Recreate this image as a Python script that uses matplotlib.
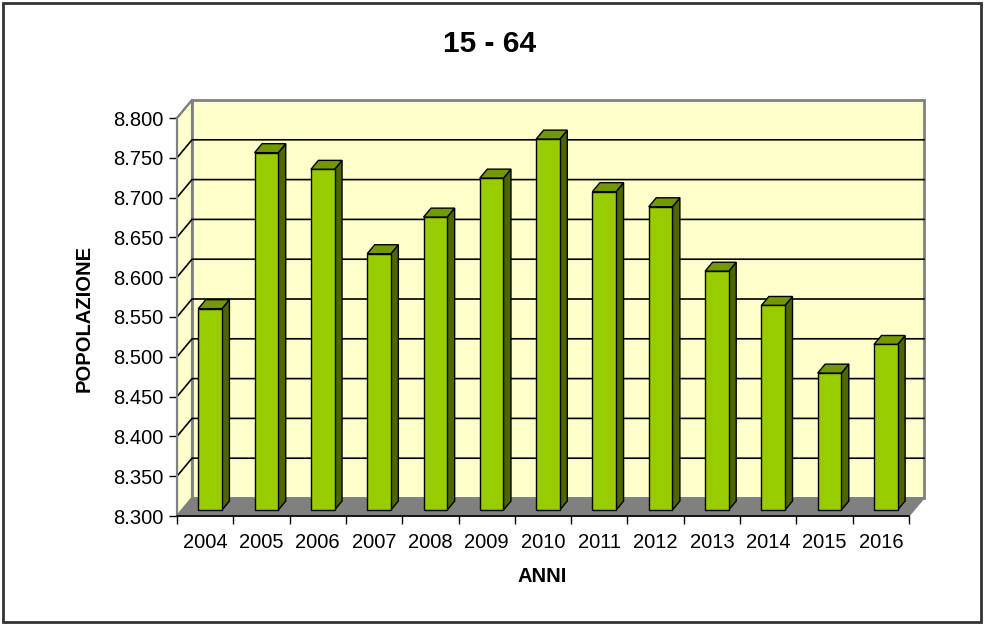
import matplotlib
matplotlib.use("Agg")
import matplotlib.pyplot as plt
from matplotlib.patches import Polygon, Rectangle

plt.rcParams['font.family'] = ['Liberation Sans', 'DejaVu Sans']

anni = ['2004', '2005', '2006', '2007', '2008', '2009', '2010',
        '2011', '2012', '2013', '2014', '2015', '2016']
popolazione = [8.553, 8.749, 8.728, 8.622, 8.668, 8.717, 8.766,
               8.700, 8.681, 8.600, 8.557, 8.472, 8.508]
y_ticks = [8.300, 8.350, 8.400, 8.450, 8.500, 8.550, 8.600,
           8.650, 8.700, 8.750, 8.800]
y_labels = ['8.300', '8.350', '8.400', '8.450', '8.500', '8.550', '8.600',
            '8.650', '8.700', '8.750', '8.800']

W, H = 985, 624
fig = plt.figure(figsize=(W / 100, H / 100), dpi=100)
fig.patch.set_facecolor('white')

# front axes box in pixels
x0, x1 = 177, 909
yb, yt = 516, 118
ax = fig.add_axes([x0 / W, 1 - yb / H, (x1 - x0) / W, (yb - yt) / H])
ax.set_xlim(0, len(anni))
ax.set_ylim(8.3, 8.8)
ax.patch.set_visible(False)

# depth offset (pixels -> data units)
dpx, dpy = 15, 18
dx = dpx * len(anni) / (x1 - x0)
dy = dpy * 0.5 / (yb - yt)
n = len(anni)
ylo, yhi = 8.3, 8.8

wall = '#FFFFCC'
# back wall
ax.add_patch(Polygon([(dx, ylo + dy), (n + dx, ylo + dy), (n + dx, yhi + dy), (dx, yhi + dy)],
                     closed=True, fc=wall, ec='#808080', lw=2, clip_on=False, zorder=1))
# left wall
ax.add_patch(Polygon([(0, ylo), (dx, ylo + dy), (dx, yhi + dy), (0, yhi)],
                     closed=True, fc=wall, ec='#808080', lw=1.5, clip_on=False, zorder=1))
# gridlines
for v in y_ticks[1:-1]:
    ax.plot([0, dx, n + dx], [v, v + dy, v + dy], color='black', lw=1.2,
            clip_on=False, zorder=2)
ax.plot([0, dx], [yhi, yhi + dy], color='#808080', lw=1.5, clip_on=False, zorder=2)
# floor
ax.add_patch(Polygon([(0, ylo), (n, ylo), (n + dx, ylo + dy), (dx, ylo + dy)],
                     closed=True, fc='#808080', ec='#808080', lw=1, clip_on=False, zorder=2))

# bars
bw = 0.42
f1, f2 = 0.33, 0.83
for i, v in enumerate(popolazione):
    left = i + 0.5 - bw / 2 + f1 * dx
    bot = ylo + f1 * dy
    top = v + f1 * dy
    ddx = (f2 - f1) * dx
    ddy = (f2 - f1) * dy
    ax.add_patch(Polygon([(left + bw, bot), (left + bw + ddx, bot + ddy),
                          (left + bw + ddx, top + ddy), (left + bw, top)],
                         closed=True, fc='#4D6600', ec='black', lw=1, zorder=3, clip_on=False))
    ax.add_patch(Polygon([(left, top), (left + bw, top), (left + bw + ddx, top + ddy),
                          (left + ddx, top + ddy)],
                         closed=True, fc='#739900', ec='black', lw=1, zorder=3, clip_on=False))
    ax.add_patch(Rectangle((left, bot), bw, top - bot, fc='#99CC00', ec='black',
                           lw=1, zorder=4, clip_on=False))

# axes styling
for s in ['top', 'right']:
    ax.spines[s].set_visible(False)
ax.spines['left'].set_color('#808080')
ax.spines['left'].set_linewidth(1.5)
ax.spines['bottom'].set_color('black')
ax.spines['bottom'].set_linewidth(1.2)
ax.spines['left'].set_zorder(5)
ax.spines['bottom'].set_zorder(5)

ax.set_yticks(y_ticks)
ax.set_yticklabels(y_labels, fontsize=14.5)
ax.tick_params(axis='y', direction='out', length=6, width=1, pad=4, color='black')
ax.set_xticks(range(n + 1))
ax.set_xticklabels([])
ax.set_xticks([i + 0.5 for i in range(n)], minor=True)
ax.set_xticklabels(anni, minor=True, fontsize=14.5)
ax.tick_params(axis='x', which='major', direction='out', length=6, width=1, color='black')
ax.tick_params(axis='x', which='minor', length=0, pad=12)

fig.text(490 / W, 1 - 44 / H, '15 - 64', ha='center', va='center',
         fontsize=21.5, fontweight='bold')
fig.text(84 / W, 1 - 318 / H, 'POPOLAZIONE', ha='center', va='center',
         rotation=90, fontsize=14.5, fontweight='bold')
fig.text(542 / W, 1 - 577 / H, 'ANNI', ha='center', va='center',
         fontsize=14.5, fontweight='bold')

# outer border
fig.patches.append(Rectangle((3 / W, 2 / H), 978 / W, 619 / H, transform=fig.transFigure,
                             fill=False, ec='#333333', lw=2))

fig.savefig('out.png', dpi=100)
